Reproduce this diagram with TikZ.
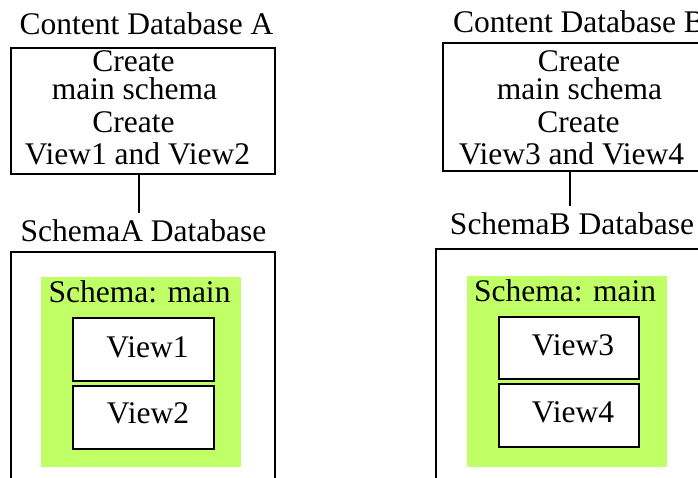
\documentclass[tikz,border=0pt]{standalone}
\usepackage{fontspec}
\setmainfont{Liberation Serif}
\definecolor{schemagreen}{RGB}{192,255,102}
\begin{document}
\begin{tikzpicture}[x=1pt,y=-1pt,
  every node/.style={inner sep=0pt,outer sep=0pt,font=\fontsize{31.5}{36}\selectfont},
  lbl/.style={anchor=base},
  frame/.style={draw=black,line width=2pt},
  schema/.style={fill=schemagreen,draw=none},
  viewbox/.style={draw=black,line width=2pt,fill=white},
  link/.style={draw=black,line width=2pt}]
\useasboundingbox (0,0) rectangle (698,478);
\clip (0,0) rectangle (698,478);

% ---- left: content database A and SchemaA database ----
\node[lbl] (titleA) at (146.5,35) {Content Database A};
\draw[frame] (11,48) rectangle (275,174);
\node[draw=none,minimum width=264pt,minimum height=126pt] (boxA) at (143,111) {};
\node[lbl] (a1) at (133.5,72) {Create};
\node[lbl] (a2) at (134.5,100) {main schema};
\node[lbl] (a3) at (133.5,133) {Create};
\node[lbl] (a4) at (137.5,165) {View1 and View2};
\coordinate (endA) at (139,213);
\draw[link] (boxA.south -| endA) -- (endA);

\node[lbl] (dbA) at (143.5,241) {SchemaA Database};
\draw[frame] (11,490) -- (11,252) -- (275,252) -- (275,490);
\node[schema,minimum width=200pt,minimum height=190pt] (schA) at (141,372) {};
\node[lbl] (schAt) at (139.5,302) {Schema: main};
\node[viewbox,minimum width=141pt,minimum height=63pt] (v1) at (143.5,349.5) {};
\node[lbl] at (147.5,357) {View1};
\node[viewbox,minimum width=141pt,minimum height=63pt] (v2) at (143.5,417.5) {};
\node[lbl] at (148,423) {View2};

% ---- right: content database B and SchemaB database ----
\node[lbl,anchor=base west] (titleB) at (453,33) {Content Database B};
\draw[frame] (710,43) -- (443,43) -- (443,171) -- (710,171);
\node[draw=none,minimum width=267pt,minimum height=128pt] (boxB) at (576.5,107) {};
\node[lbl] (b1) at (579,72) {Create};
\node[lbl] (b2) at (579.5,100) {main schema};
\node[lbl] (b3) at (578.5,133) {Create};
\node[lbl] (b4) at (571.5,165) {View3 and View4};
\coordinate (endB) at (570,206);
\draw[link] (boxB.south -| endB) -- (endB);

\node[lbl] (dbB) at (572,235) {SchemaB Database};
\draw[frame] (436,490) -- (436,249) -- (710,249);
\node[schema,minimum width=200pt,minimum height=191pt] (schB) at (567,371.5) {};
\node[lbl] (schBt) at (565,301) {Schema: main};
\node[viewbox,minimum width=140pt,minimum height=62pt] (v3) at (569,348) {};
\node[lbl] at (573,355) {View3};
\node[viewbox,minimum width=140pt,minimum height=63pt] (v4) at (569,415.5) {};
\node[lbl] at (573,422) {View4};
\end{tikzpicture}
\end{document}
